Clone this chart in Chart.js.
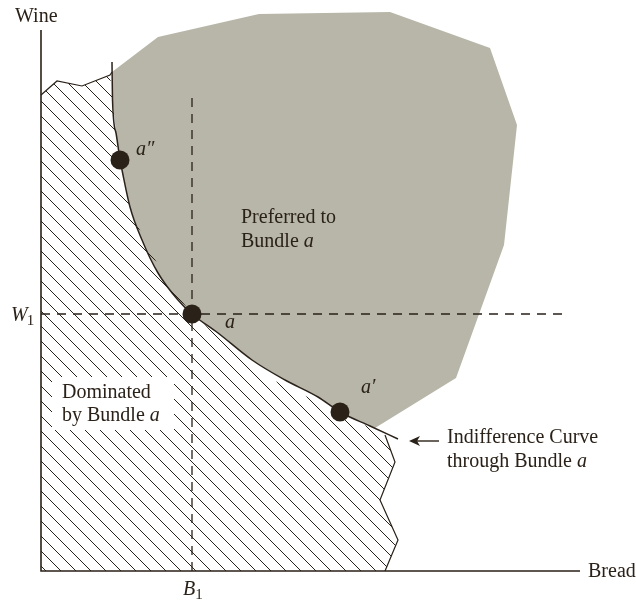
<!DOCTYPE html>
<html>
<head>
<meta charset="utf-8">
<script src="https://cdn.jsdelivr.net/npm/chart.js@4.4.0/dist/chart.umd.min.js"></script>
<style>
  html, body { margin: 0; padding: 0; background: #fff; }
  canvas { display: block; }
</style>
</head>
<body>
<canvas id="chart" width="636" height="600"></canvas>
<script>
// quantities of bread (x) and wine (y)
var curveBread = [71, 71.5, 75, 79, 81, 89, 101, 117, 137, 151, 177, 211, 244, 277, 299, 329, 357];
var curveWine  = [509, 471, 438, 411, 401, 364, 331, 298, 271, 257, 238, 211, 191, 174, 159, 145, 132];

// outer edge of the "preferred" region (the rest of its edge is the curve)
var blobBread = [71, 117, 218, 349, 449, 476, 463, 415, 334];
var blobWine  = [499, 534, 557, 559, 523, 446, 326, 193, 143];

// "dominated" region
var hatchBread = [0, 0, 16, 41, 69, 71.5, 75, 77, 91, 101, 117, 134, 151, 224, 299, 344, 354, 339, 357, 344];
var hatchWine  = [0, 476, 490, 485, 496, 471, 438, 396, 359, 336, 306, 279, 257, 195, 158, 136, 109, 71, 31, 0];
var topEdgeBread = [0, 16, 41, 69, 71];
var topEdgeWine  = [476, 490, 485, 496, 499];
var rightEdgeBread = [344, 354, 339, 357, 344];
var rightEdgeWine  = [136, 109, 71, 31, 0];

var bundleNames = ["a\u2033", "a", "a\u2032"];
var bundleBread = [79, 151, 299];
var bundleWine  = [411, 257, 159];

var B1 = 151, W1 = 257;
var breadMax = 539, wineMax = 571, wineAxisTop = 541;
var dashTopWine = 473, dashRightBread = 524;

var ink = "#2a2118";
var gray = "#b7b6a8";
var serif = '"Liberation Serif", "DejaVu Serif", serif';

function pts(xs, ys) {
  return xs.map(function (x, i) { return { x: x, y: ys[i] }; });
}

function hatchPattern(ctx) {
  var s = 15, c = document.createElement("canvas");
  c.width = s; c.height = s;
  var g = c.getContext("2d");
  g.strokeStyle = ink;
  g.lineWidth = 1;
  g.beginPath();
  g.moveTo(-2, -2); g.lineTo(s + 2, s + 2);
  g.stroke();
  return ctx.createPattern(c, "repeat");
}

var blobPts = pts(blobBread, blobWine).concat(pts(curveBread, curveWine).slice(0, 15).reverse());

var labelPlugin = {
  id: "labels",
  afterDatasetsDraw: function (chart) {
    var c = chart.ctx;
    c.save();
    // keep the hatching out from behind the text
    c.fillStyle = "#fff";
    c.fillRect(52, 377, 122, 53);

    c.fillStyle = ink;
    c.textBaseline = "alphabetic";
    function txt(s, x, y, style, size) {
      c.font = (style || "") + " " + (size || 20) + "px " + serif;
      c.fillText(s, x, y);
      return c.measureText(s).width;
    }
    txt("Wine", 15, 22);
    txt("Bread", 588, 577);

    var w = txt("W", 11, 321, "italic");
    txt("1", 11 + w - 1, 325, "", 15);
    w = txt("B", 183, 595, "italic");
    txt("1", 183 + w, 599, "", 15);

    txt("Preferred to", 241, 223);
    w = txt("Bundle ", 241, 247);
    txt("a", 241 + w, 247, "italic");

    txt("Dominated", 62, 398);
    w = txt("by Bundle ", 62, 421);
    txt("a", 62 + w, 421, "italic");

    txt("Indifference Curve", 447, 443);
    w = txt("through Bundle ", 447, 467);
    txt("a", 447 + w, 467, "italic");

    // bundle names
    var xs = chart.scales.x, ys = chart.scales.y;
    var offs = [[16, -5], [33, 14], [21, -19]];
    bundleNames.forEach(function (n, i) {
      txt(n, xs.getPixelForValue(bundleBread[i]) + offs[i][0], ys.getPixelForValue(bundleWine[i]) + offs[i][1], "italic");
    });

    // arrow pointing at the curve
    c.strokeStyle = ink;
    c.lineWidth = 1.4;
    c.beginPath();
    c.moveTo(439, 441); c.lineTo(414, 441);
    c.stroke();
    c.beginPath();
    c.moveTo(409, 441); c.lineTo(420, 436); c.lineTo(417, 441); c.lineTo(420, 446);
    c.closePath();
    c.fill();
    c.restore();
  }
};

var ctx = document.getElementById("chart").getContext("2d");

function lineSet(data, opts) {
  var d = {
    data: data, showLine: true, pointRadius: 0, borderColor: ink,
    borderWidth: 1.4, fill: false, tension: 0, clip: false
  };
  for (var k in opts) d[k] = opts[k];
  return d;
}

new Chart(ctx, {
  type: "scatter",
  data: {
    datasets: [
      lineSet(blobPts, { fill: "shape", backgroundColor: gray, borderWidth: 0, order: 10 }),
      lineSet(pts(hatchBread, hatchWine), { fill: "shape", backgroundColor: hatchPattern(ctx), borderWidth: 0, order: 9 }),
      lineSet(pts(topEdgeBread, topEdgeWine), { borderWidth: 1.2, order: 8 }),
      lineSet(pts(rightEdgeBread, rightEdgeWine), { borderWidth: 1.2, order: 8 }),
      lineSet([{ x: B1, y: 0 }, { x: B1, y: dashTopWine }], { borderDash: [9, 7], borderWidth: 1.3, order: 6 }),
      lineSet([{ x: 0, y: W1 }, { x: dashRightBread, y: W1 }], { borderDash: [9, 7], borderWidth: 1.3, order: 6 }),
      lineSet(pts(curveBread, curveWine), { cubicInterpolationMode: "monotone", borderWidth: 1.5, order: 4 }),
      lineSet([{ x: 0, y: wineAxisTop }, { x: 0, y: 0 }, { x: breadMax, y: 0 }], { borderWidth: 1.6, order: 3 }),
      {
        data: pts(bundleBread, bundleWine), pointRadius: 9.5, pointBackgroundColor: ink,
        pointBorderWidth: 0, showLine: false, clip: false, order: 1
      }
    ]
  },
  options: {
    responsive: false,
    animation: false,
    events: [],
    layout: { autoPadding: false, padding: { left: 41, right: 56, top: 0, bottom: 29 } },
    scales: {
      x: { type: "linear", min: 0, max: breadMax, display: false },
      y: { type: "linear", min: 0, max: wineMax, display: false }
    },
    plugins: { legend: { display: false }, tooltip: { enabled: false } }
  },
  plugins: [labelPlugin]
});
</script>
</body>
</html>
